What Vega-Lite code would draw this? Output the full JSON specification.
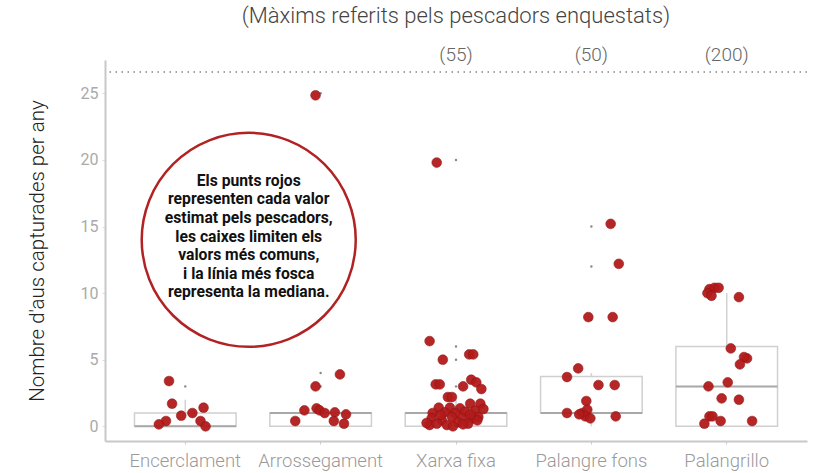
{
  "$schema": "https://vega.github.io/schema/vega-lite/v6.json",
  "width": 702,
  "height": 381,
  "autosize": "none",
  "padding": {"left": 105, "top": 60, "right": 20, "bottom": 32},
  "background": "white",
  "title": {
    "text": "(Màxims referits pels pescadors enquestats)",
    "font": "Roboto",
    "fontSize": 22,
    "fontWeight": 300,
    "color": "#444444",
    "anchor": "middle",
    "offset": 18
  },
  "config": {
    "view": {"stroke": null},
    "font": "Roboto",
    "axis": {"grid": false}
  },
  "datasets": {
    "points": [
      {"cat": "Encerclament", "value": 3.4, "jitter": -0.16},
      {"cat": "Encerclament", "value": 1.7, "jitter": -0.13},
      {"cat": "Encerclament", "value": 1.4, "jitter": 0.18},
      {"cat": "Encerclament", "value": 0.8, "jitter": -0.04},
      {"cat": "Encerclament", "value": 1.0, "jitter": 0.07},
      {"cat": "Encerclament", "value": 0.4, "jitter": -0.19},
      {"cat": "Encerclament", "value": 0.15, "jitter": -0.26},
      {"cat": "Encerclament", "value": 0.4, "jitter": 0.15},
      {"cat": "Encerclament", "value": 0.0, "jitter": 0.2},
      {"cat": "Arrossegament", "value": 24.85, "jitter": -0.05},
      {"cat": "Arrossegament", "value": 3.9, "jitter": 0.19},
      {"cat": "Arrossegament", "value": 3.0, "jitter": -0.05},
      {"cat": "Arrossegament", "value": 1.2, "jitter": -0.16},
      {"cat": "Arrossegament", "value": 1.35, "jitter": -0.04},
      {"cat": "Arrossegament", "value": 1.2, "jitter": -0.01},
      {"cat": "Arrossegament", "value": 1.0, "jitter": 0.04},
      {"cat": "Arrossegament", "value": 1.05, "jitter": 0.14},
      {"cat": "Arrossegament", "value": 0.9, "jitter": 0.25},
      {"cat": "Arrossegament", "value": 0.4, "jitter": -0.25},
      {"cat": "Arrossegament", "value": 0.4, "jitter": 0.13},
      {"cat": "Arrossegament", "value": 0.2, "jitter": 0.23},
      {"cat": "Xarxa fixa", "value": 19.8, "jitter": -0.19},
      {"cat": "Xarxa fixa", "value": 6.4, "jitter": -0.26},
      {"cat": "Xarxa fixa", "value": 5.0, "jitter": -0.13},
      {"cat": "Xarxa fixa", "value": 5.4, "jitter": 0.13},
      {"cat": "Xarxa fixa", "value": 5.4, "jitter": 0.17},
      {"cat": "Xarxa fixa", "value": 3.15, "jitter": -0.2},
      {"cat": "Xarxa fixa", "value": 3.15, "jitter": -0.16},
      {"cat": "Xarxa fixa", "value": 3.0, "jitter": 0.07},
      {"cat": "Xarxa fixa", "value": 3.5, "jitter": 0.15},
      {"cat": "Xarxa fixa", "value": 3.3, "jitter": 0.2},
      {"cat": "Xarxa fixa", "value": 2.8, "jitter": 0.25},
      {"cat": "Xarxa fixa", "value": 2.2, "jitter": -0.08},
      {"cat": "Xarxa fixa", "value": 2.2, "jitter": -0.04},
      {"cat": "Xarxa fixa", "value": 1.4, "jitter": -0.17},
      {"cat": "Xarxa fixa", "value": 1.4, "jitter": -0.06},
      {"cat": "Xarxa fixa", "value": 1.35, "jitter": 0.04},
      {"cat": "Xarxa fixa", "value": 1.7, "jitter": 0.14},
      {"cat": "Xarxa fixa", "value": 1.7, "jitter": 0.24},
      {"cat": "Xarxa fixa", "value": 1.0, "jitter": -0.23},
      {"cat": "Xarxa fixa", "value": 1.05, "jitter": -0.11},
      {"cat": "Xarxa fixa", "value": 1.0, "jitter": -0.01},
      {"cat": "Xarxa fixa", "value": 1.1, "jitter": 0.09},
      {"cat": "Xarxa fixa", "value": 1.2, "jitter": 0.19},
      {"cat": "Xarxa fixa", "value": 0.6, "jitter": -0.24},
      {"cat": "Xarxa fixa", "value": 0.45, "jitter": -0.14},
      {"cat": "Xarxa fixa", "value": 0.7, "jitter": -0.04},
      {"cat": "Xarxa fixa", "value": 0.6, "jitter": 0.06},
      {"cat": "Xarxa fixa", "value": 0.6, "jitter": 0.16},
      {"cat": "Xarxa fixa", "value": 0.7, "jitter": 0.22},
      {"cat": "Xarxa fixa", "value": 0.1, "jitter": -0.26},
      {"cat": "Xarxa fixa", "value": 0.2, "jitter": -0.19},
      {"cat": "Xarxa fixa", "value": 0.1, "jitter": -0.09},
      {"cat": "Xarxa fixa", "value": 0.3, "jitter": 0.02},
      {"cat": "Xarxa fixa", "value": 0.2, "jitter": 0.12},
      {"cat": "Xarxa fixa", "value": 0.45, "jitter": 0.21},
      {"cat": "Xarxa fixa", "value": 0.25, "jitter": -0.29},
      {"cat": "Xarxa fixa", "value": 0.0, "jitter": -0.03},
      {"cat": "Xarxa fixa", "value": 0.15, "jitter": 0.07},
      {"cat": "Xarxa fixa", "value": 1.3, "jitter": 0.27},
      {"cat": "Xarxa fixa", "value": 0.85, "jitter": -0.15},
      {"cat": "Xarxa fixa", "value": 0.9, "jitter": 0.14},
      {"cat": "Palangre fons", "value": 15.2, "jitter": 0.19},
      {"cat": "Palangre fons", "value": 12.2, "jitter": 0.27},
      {"cat": "Palangre fons", "value": 8.2, "jitter": -0.03},
      {"cat": "Palangre fons", "value": 8.2, "jitter": 0.21},
      {"cat": "Palangre fons", "value": 4.35, "jitter": -0.13},
      {"cat": "Palangre fons", "value": 3.7, "jitter": -0.24},
      {"cat": "Palangre fons", "value": 3.1, "jitter": 0.07},
      {"cat": "Palangre fons", "value": 3.1, "jitter": 0.23},
      {"cat": "Palangre fons", "value": 1.9, "jitter": -0.05},
      {"cat": "Palangre fons", "value": 1.0, "jitter": -0.24},
      {"cat": "Palangre fons", "value": 1.0, "jitter": -0.09},
      {"cat": "Palangre fons", "value": 1.25, "jitter": -0.04},
      {"cat": "Palangre fons", "value": 0.75, "jitter": -0.06},
      {"cat": "Palangre fons", "value": 0.6, "jitter": -0.01},
      {"cat": "Palangre fons", "value": 0.75, "jitter": 0.24},
      {"cat": "Palangre fons", "value": 0.9, "jitter": -0.12},
      {"cat": "Palangrillo", "value": 10.3, "jitter": -0.17},
      {"cat": "Palangrillo", "value": 10.4, "jitter": -0.12},
      {"cat": "Palangrillo", "value": 10.4, "jitter": -0.08},
      {"cat": "Palangrillo", "value": 10.0, "jitter": -0.19},
      {"cat": "Palangrillo", "value": 9.8, "jitter": -0.15},
      {"cat": "Palangrillo", "value": 9.7, "jitter": 0.12},
      {"cat": "Palangrillo", "value": 5.85, "jitter": 0.04},
      {"cat": "Palangrillo", "value": 5.1, "jitter": 0.2},
      {"cat": "Palangrillo", "value": 5.2, "jitter": 0.17},
      {"cat": "Palangrillo", "value": 4.65, "jitter": 0.13},
      {"cat": "Palangrillo", "value": 3.3, "jitter": 0.01},
      {"cat": "Palangrillo", "value": 3.0, "jitter": -0.18},
      {"cat": "Palangrillo", "value": 2.1, "jitter": -0.05},
      {"cat": "Palangrillo", "value": 2.0, "jitter": 0.12},
      {"cat": "Palangrillo", "value": 0.75, "jitter": -0.17},
      {"cat": "Palangrillo", "value": 0.75, "jitter": -0.14},
      {"cat": "Palangrillo", "value": 0.2, "jitter": -0.22},
      {"cat": "Palangrillo", "value": 0.4, "jitter": -0.06},
      {"cat": "Palangrillo", "value": 0.4, "jitter": 0.25}
    ],
    "boxes": [
      {"cat": "Encerclament", "lower": 0, "q1": 0, "median": 0, "q3": 1, "upper": 2},
      {"cat": "Arrossegament", "lower": 0, "q1": 0, "median": 1, "q3": 1, "upper": 1},
      {"cat": "Xarxa fixa", "lower": 0, "q1": 0, "median": 1, "q3": 1, "upper": 2},
      {"cat": "Palangre fons", "lower": 0, "q1": 1, "median": 1, "q3": 3.75, "upper": 4},
      {"cat": "Palangrillo", "lower": 0, "q1": 0, "median": 3, "q3": 6, "upper": 10}
    ],
    "outliers": [
      {"cat": "Encerclament", "value": 3},
      {"cat": "Arrossegament", "value": 3},
      {"cat": "Arrossegament", "value": 4},
      {"cat": "Arrossegament", "value": 25},
      {"cat": "Xarxa fixa", "value": 3},
      {"cat": "Xarxa fixa", "value": 5},
      {"cat": "Xarxa fixa", "value": 6},
      {"cat": "Xarxa fixa", "value": 20},
      {"cat": "Palangre fons", "value": 8},
      {"cat": "Palangre fons", "value": 12},
      {"cat": "Palangre fons", "value": 15}
    ],
    "maxima": [
      {"cat": "Xarxa fixa", "level": 27.9, "label": "(55)"},
      {"cat": "Palangre fons", "level": 27.9, "label": "(50)"},
      {"cat": "Palangrillo", "level": 27.9, "label": "(200)"}
    ],
    "ref": [{"limit": 26.6}],
    "note": [
      {"cat": "Encerclament", "level": 14.0, "lines": ["Els punts rojos", "representen cada valor", "estimat pels pescadors,", "les caixes limiten els", "valors més comuns,", "i la línia més fosca", "representa la mediana."]}
    ]
  },
  "encoding": {
    "x": {
      "field": "cat",
      "type": "nominal",
      "sort": ["Encerclament", "Arrossegament", "Xarxa fixa", "Palangre fons", "Palangrillo"],
      "scale": {"paddingInner": 0.25, "paddingOuter": 0.218},
      "axis": {
        "title": null,
        "labelAngle": 0,
        "labelFontSize": 18.5,
        "labelColor": "#9a9a9a",
        "labelFont": "Roboto",
        "labelFontWeight": 300,
        "labelPadding": 7,
        "domainColor": "#c8c8c8",
        "domainWidth": 2,
        "tickColor": "#cccccc",
        "tickSize": 3
      }
    }
  },
  "layer": [
    {
      "data": {"name": "ref"},
      "mark": {"type": "rule", "strokeDash": [1.5, 4.5], "color": "#888888", "strokeWidth": 1.6},
      "encoding": {
        "x": null,
        "y": {
          "field": "limit",
          "type": "quantitative",
          "scale": {"domain": [-1.1, 27.5], "nice": false, "zero": false},
          "axis": {
            "values": [0, 5, 10, 15, 20, 25],
            "title": "Nombre d'aus capturades per any",
            "titleFont": "Roboto",
            "titleFontSize": 20.5,
            "titleFontWeight": 300,
            "titleColor": "#222222",
            "titlePadding": 33,
            "labelFontSize": 16,
            "labelColor": "#aaaaaa",
            "labelPadding": 4,
            "labelFont": "Roboto",
            "domainColor": "#c8c8c8",
            "domainWidth": 2,
            "tickColor": "#dddddd",
            "tickSize": 3
          }
        }
      }
    },
    {
      "data": {"name": "boxes"},
      "mark": {"type": "rule", "color": "#d2d2d2", "strokeWidth": 1.5},
      "encoding": {
        "y": {"field": "q3", "type": "quantitative"},
        "y2": {"field": "upper"}
      }
    },
    {
      "data": {"name": "boxes"},
      "mark": {"type": "rule", "color": "#d2d2d2", "strokeWidth": 1.5},
      "encoding": {
        "y": {"field": "lower", "type": "quantitative"},
        "y2": {"field": "q1"}
      }
    },
    {
      "data": {"name": "boxes"},
      "mark": {"type": "bar", "fill": "white", "stroke": "#d0d0d0", "strokeWidth": 1.5, "width": 101.6},
      "encoding": {
        "y": {"field": "q1", "type": "quantitative"},
        "y2": {"field": "q3"}
      }
    },
    {
      "data": {"name": "boxes"},
      "mark": {"type": "bar", "fill": "white", "stroke": "#a8a8a8", "strokeWidth": 2, "width": 101.6},
      "encoding": {
        "y": {"field": "median", "type": "quantitative"},
        "y2": {"field": "median"}
      }
    },
    {
      "data": {"name": "outliers"},
      "mark": {"type": "circle", "color": "#8a8a8a", "size": 6, "opacity": 1},
      "encoding": {
        "y": {"field": "value", "type": "quantitative"}
      }
    },
    {
      "data": {"name": "points"},
      "mark": {"type": "circle", "fill": "#b31b1b", "stroke": "#8f1212", "strokeWidth": 0.6, "size": 95, "opacity": 0.95},
      "encoding": {
        "xOffset": {"field": "jitter", "type": "quantitative", "scale": {"domain": [-0.5, 0.5]}},
        "y": {"field": "value", "type": "quantitative"}
      }
    },
    {
      "data": {"name": "maxima"},
      "mark": {"type": "text", "fontSize": 19, "fontWeight": 300, "color": "#666666", "font": "Roboto", "baseline": "middle"},
      "encoding": {
        "y": {"field": "level", "type": "quantitative"},
        "text": {"field": "label"}
      }
    },
    {
      "data": {"name": "note"},
      "mark": {"type": "point", "shape": "circle", "size": 45800, "filled": false, "fill": "white", "fillOpacity": 1, "stroke": "#b22222", "strokeWidth": 2.5, "opacity": 1},
      "encoding": {
        "x": {"field": "cat", "type": "nominal", "bandPosition": 1.125},
        "y": {"field": "level", "type": "quantitative"}
      }
    },
    {
      "data": {"name": "note"},
      "mark": {"type": "text", "fontSize": 15.7, "fontWeight": "bold", "font": "Roboto", "color": "#111111", "lineHeight": 18.6, "baseline": "middle", "align": "center", "dy": -59},
      "encoding": {
        "x": {"field": "cat", "type": "nominal", "bandPosition": 1.125},
        "y": {"field": "level", "type": "quantitative"},
        "text": {"field": "lines"}
      }
    }
  ]
}
